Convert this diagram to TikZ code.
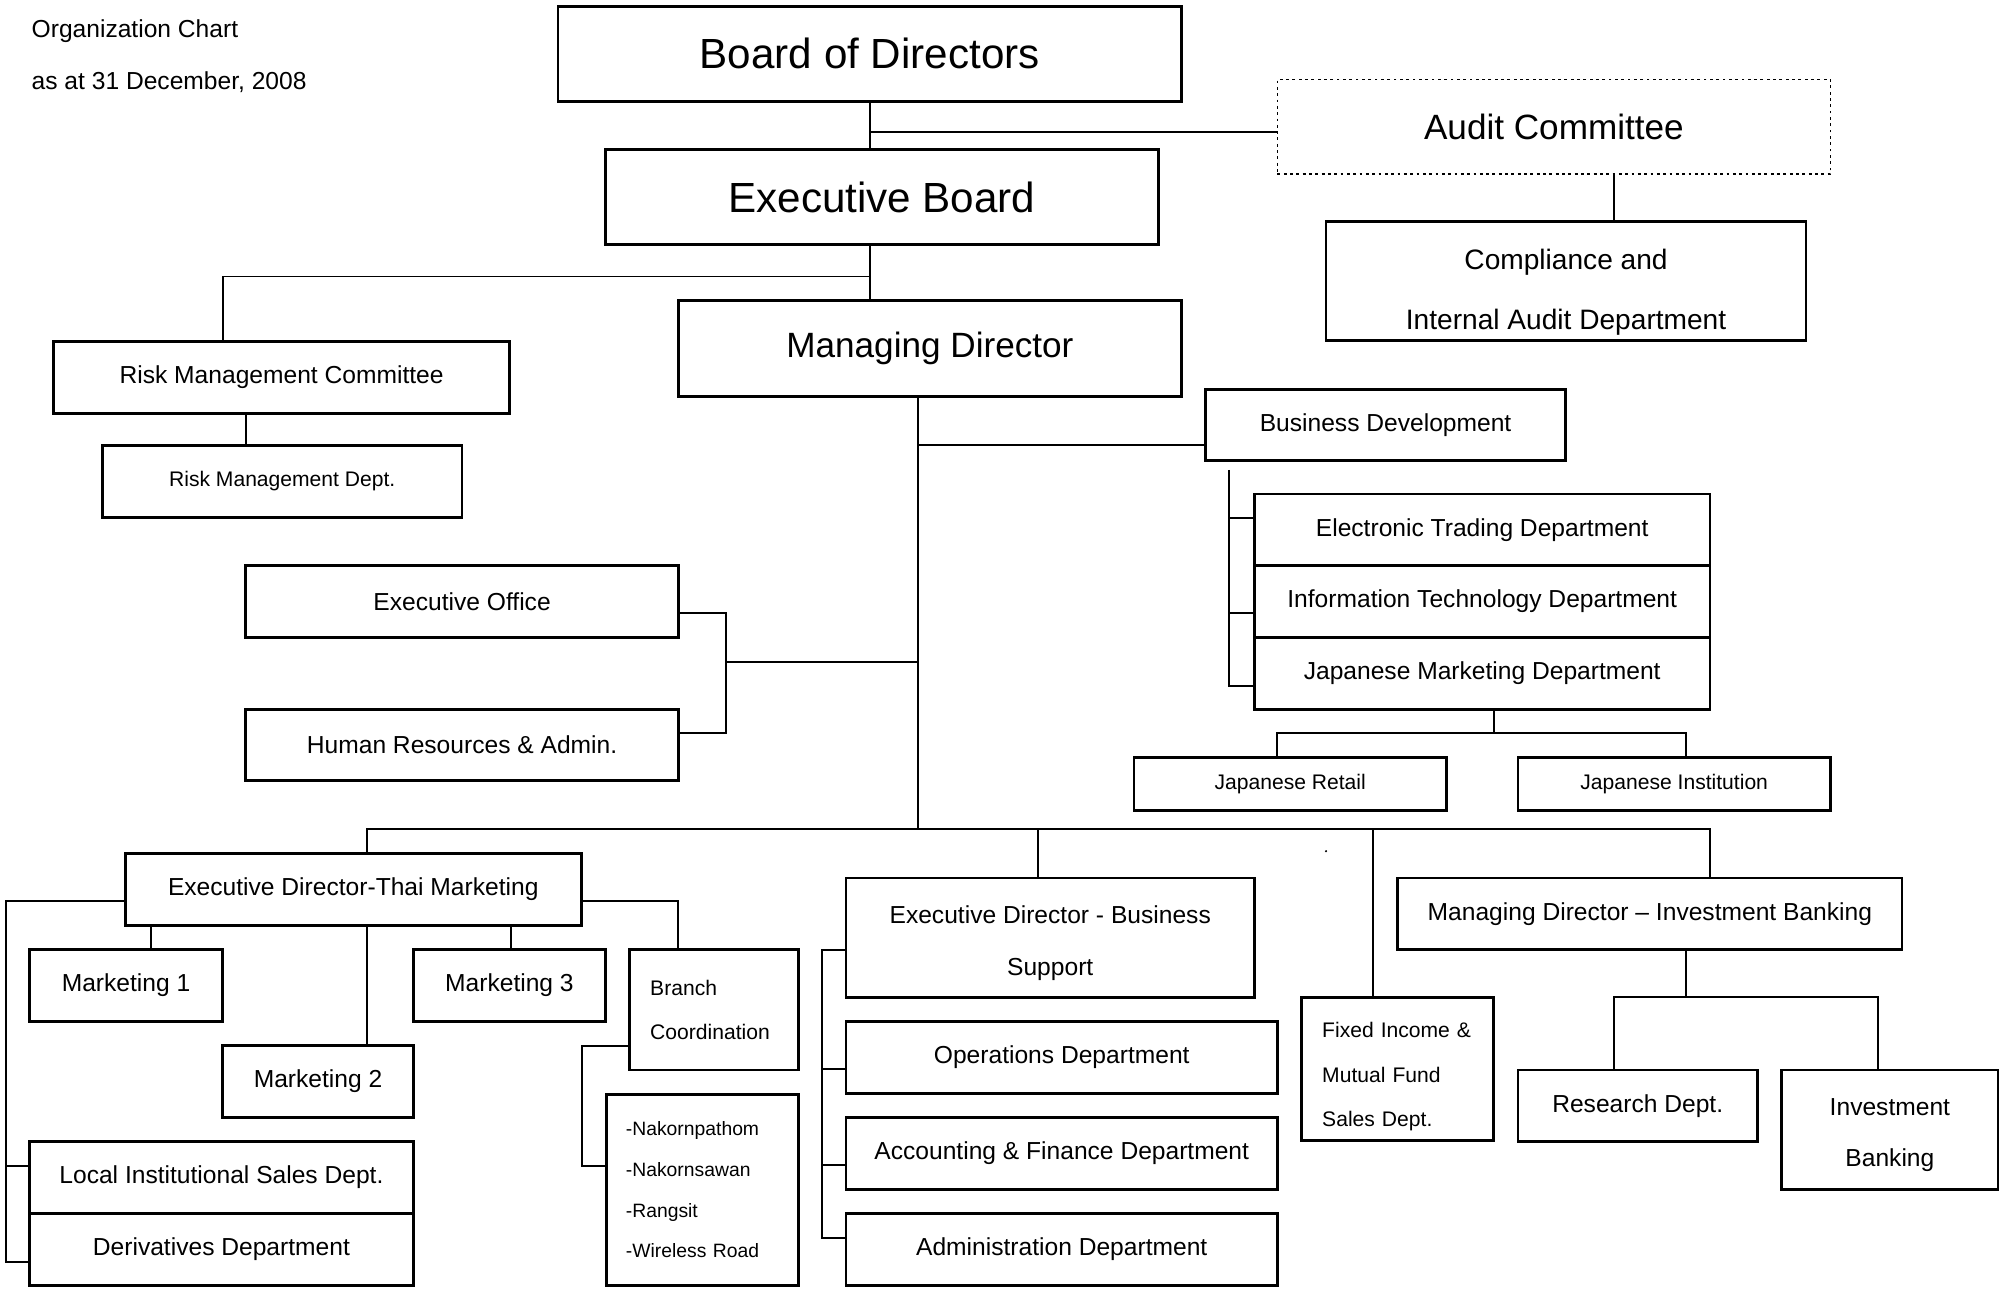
\documentclass[tikz,border=0pt]{standalone}
\usepackage{fontspec}
\setmainfont{Liberation Sans}

\newcommand\px{0.0128cm}

\tikzset{
  box/.style={draw, line width=0.8pt, inner sep=0pt, align=center,
    font=\fontsize{7}{8.4}\selectfont},
  big/.style={font=\fontsize{12}{14}\selectfont},
  mid/.style={font=\fontsize{10}{12}\selectfont},
  small/.style={font=\fontsize{6}{7.2}\selectfont},
  note/.style={anchor=west, inner sep=0pt, font=\fontsize{7}{8.4}\selectfont},
  size/.style 2 args={minimum width=#1*\px, minimum height=#2*\px},
}

\begin{document}
\begin{tikzpicture}[x=\px, y=-\px, line width=0.55pt]
\useasboundingbox (0,0) rectangle (1568,1009);

% heading
\node (title) [note] at (24,24) {Organization Chart};
\node (date) [note] at (24,64) {as at 31 December, 2008};

% top of the chart
\node (bod) [box, big, size={487}{74}] at (679.5,42) {Board of Directors};
\node (eb) [box, big, size={432}{74}] at (689,154) {Executive Board};
\node (ac) [box, mid, densely dotted, line width=0.4pt, size={432}{74}] at (1214,99) {Audit Committee};
\node (cia) [box, font=\fontsize{8}{17.1}\selectfont, text height=29.5pt, size={375}{93}] at (1223.5,219.5) {Compliance and\\Internal Audit Department};
\node (md) [box, mid, size={393}{75}] at (726.5,272.5) {Managing Director};
\node (rmc) [box, size={356}{56}] at (220,295) {Risk Management Committee};
\node (rmd) [box, small, size={281}{56}] at (220.5,376) {Risk Management Dept.};

% business development
\node (bd) [box, size={281}{56}] at (1082.5,332) {Business Development};
\node (etd) [box, size={356}{56}] at (1158,414) {Electronic Trading Department};
\node (itd) [box, size={356}{56}] at (1158,470) {Information Technology Department};
\node (jmd) [box, size={356}{56}] at (1158,526) {Japanese Marketing Department};
\node (jr) [box, small, size={244}{41}] at (1008,612.5) {Japanese Retail};
\node (ji) [box, small, size={244}{41}] at (1308,612.5) {Japanese Institution};

% office
\node (eo) [box, size={338}{56}] at (361,470) {Executive Office};
\node (hr) [box, size={338}{56}] at (361,582) {Human Resources \& Admin.};

% thai marketing
\node (edt) [box, size={356}{56}] at (276,695) {Executive Director-Thai Marketing};
\node (m1) [box, size={151}{56}] at (98.5,770) {Marketing 1};
\node (m2) [box, size={149}{56}] at (248.5,845) {Marketing 2};
\node (m3) [box, size={150}{56}] at (398,770) {Marketing 3};
\node (bc) [box, size={132}{94}, align=left, text width=100*\px, font=\fontsize{6}{12.7}\selectfont] at (558,789) {Branch\\Coordination};
\node (bl) [box, size={150}{149}, align=left, text width=120*\px, font=\fontsize{5.5}{11.6}\selectfont] at (549,929.5) {-Nakornpathom\\-Nakornsawan\\-Rangsit\\-Wireless Road};
\node (lis) [box, size={300}{56}] at (173,920) {Local Institutional Sales Dept.};
\node (dd) [box, size={300}{56}] at (173,976) {Derivatives Department};

% business support
\node (edbs) [box, size={319}{93}, font=\fontsize{7}{14.9}\selectfont, text height=23pt] at (820.5,732.5) {Executive Director - Business\\Support};
\node (ops) [box, size={337}{56}] at (829.5,826) {Operations Department};
\node (afd) [box, size={337}{56}] at (829.5,901) {Accounting \& Finance Department};
\node (adm) [box, size={337}{56}] at (829.5,976) {Administration Department};

% fixed income and investment banking
\node (fi) [box, size={150}{112}, align=left, text width=118*\px, font=\fontsize{6}{12.7}\selectfont, text height=8.8pt] at (1092,835) {Fixed Income \&\\Mutual Fund\\Sales Dept.};
\node (mib) [box, size={394}{56}] at (1289,714) {Managing Director -- Investment Banking};
\node (rd) [box, size={187}{56}] at (1279.5,864) {Research Dept.};
\node (ib) [box, size={169}{93}, font=\fontsize{7}{14.5}\selectfont, text height=22.6pt] at (1476.5,882.5) {Investment\\Banking};

% joints
\coordinate (mdt) at (717,310);
\coordinate (bus) at (717,648);
\coordinate (bdb) at (960,367);
\coordinate (jm) at (1167,573);
\coordinate (hrj) at (567,517);
\coordinate (ibj) at (1317,779);

% lines
\draw (bod.south) -- (bod.south |- eb.north);
\draw (bod.south |- 0,103) -- (ac.west |- 0,103);
\draw (ac.south -| 1261,0) -- (cia.north -| 1261,0);
\draw (bod.south |- eb.south) -- (bod.south |- md.north);
\draw (bod.south |- 0,216) -| (rmc.north -| 174,0);
\draw (rmc.south -| 192,0) -- (rmd.north -| 192,0);

\draw (mdt) -- (bus);
\draw (mdt |- 0,348) -- (bd.west |- 0,348);
\draw (bdb) |- (jmd.west |- 0,536);
\draw (bdb |- 0,405) -- (etd.west |- 0,405);
\draw (bdb |- 0,479) -- (itd.west |- 0,479);
\draw (jmd.south -| jm) -- (jm);
\draw (jr.north -| 998,0) |- (jm) -| (ji.north -| 1317,0);

\draw (eo.east |- 0,479) -| (hrj) |- (hr.east |- 0,573);
\draw (hrj) -- (mdt |- hrj);

\draw (edt.north -| 287,0) |- (bus) -| (mib.north -| 1336,0);
\draw (bus -| 811,0) -- (edbs.north -| 811,0);
\draw (bus -| 1073,0) -- (fi.north -| 1073,0);
\fill (1036,665) circle (0.9);

\draw (edt.south -| 118,0) -- (m1.north -| 118,0);
\draw (edt.south -| 287,0) -- (m2.north -| 287,0);
\draw (edt.south -| 399,0) -- (m3.north -| 399,0);
\draw (edt.east |- 0,704) -| (bc.north -| 530,0);
\draw (edt.west |- 0,704) -| (5,986) -- (dd.west |- 0,986);
\draw (5,911) -- (lis.west |- 0,911);
\draw (bc.west |- 0,817) -| (455,911) -- (bl.west |- 0,911);

\draw (edbs.west |- 0,742) -| (642,967) -- (adm.west |- 0,967);
\draw (642,835) -- (ops.west |- 0,835);
\draw (642,910) -- (afd.west |- 0,910);

\draw (mib.south -| ibj) -- (ibj);
\draw (rd.north -| 1261,0) |- (ibj) -| (ib.north -| 1467,0);
\end{tikzpicture}
\end{document}
